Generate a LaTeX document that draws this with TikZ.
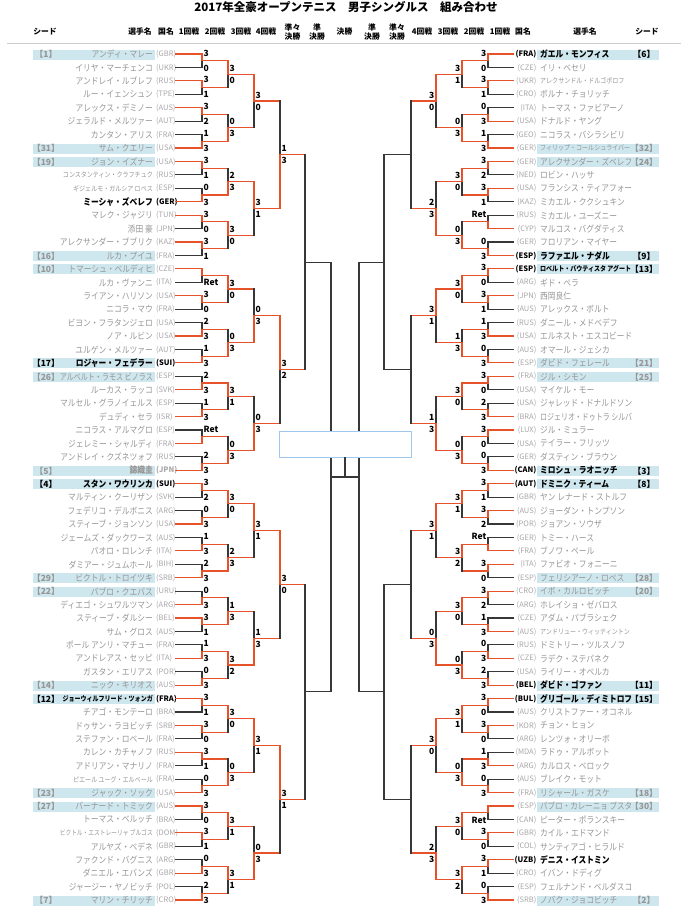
\documentclass[tikz,border=0pt]{standalone}
\usepackage{fontspec}
\usepackage{graphicx}
\setmainfont{Noto Sans CJK JP}
\newfontfamily\nmf[FakeStretch=0.86]{Noto Sans CJK JP}
\definecolor{O}{RGB}{232,82,42}
\definecolor{D}{RGB}{55,55,55}
\definecolor{nmgray}{RGB}{150,150,150}
\definecolor{ccgray}{RGB}{168,168,168}
\definecolor{seedbg}{RGB}{206,230,237}
\definecolor{boxblue}{RGB}{160,200,236}
\definecolor{rulegray}{RGB}{205,205,205}
\newsavebox\nmbox
\newcommand\fitname[2]{\sbox\nmbox{#2}\ifdim\wd\nmbox>#1\relax\resizebox{#1}{\height}{#2}\else\usebox\nmbox\fi}
\newcommand\sm{\fontsize{7}{8}\selectfont}
\tikzset{
  ln/.style={line width=1.2pt, line cap=rect},
  nameL/.style={anchor=east, inner sep=0pt, text=nmgray, font=\nmf\fontsize{9}{10}\selectfont},
  nameR/.style={anchor=west, inner sep=0pt, text=nmgray, font=\nmf\fontsize{9}{10}\selectfont},
  ccL/.style={anchor=west, inner sep=0pt, text=ccgray, font=\fontsize{7.5}{8}\selectfont},
  ccR/.style={anchor=east, inner sep=0pt, text=ccgray, font=\fontsize{7.5}{8}\selectfont},
  seedt/.style={inner sep=0pt, text=nmgray, font=\fontsize{8.5}{9}\selectfont\bfseries},
  bk/.style={text=black, execute at begin node=\bfseries},
  bg/.style={execute at begin node=\bfseries},
  sc/.style={inner sep=0pt, text=black, font=\fontsize{8.5}{9}\selectfont\bfseries},
  scL/.style={anchor=west, xshift=1.5pt},
  scR/.style={anchor=east, xshift=-1.5pt},
  hd/.style={inner sep=0pt, align=center, font=\fontsize{7.8}{9.5}\selectfont\bfseries},
}
% left player
\newcommand\PL[5]{%
  \coordinate (L0-#1) at (176,{ry(#1)});
  \if\relax\detokenize{#2}\relax\else
    \fill[seedbg] (33,{ry(#1)-4.5}) rectangle (155,{ry(#1)+5.5});
    \node[seedt,#5] (Lsd#1) at (46,{ry(#1)+0.5}) {【#2】};
  \fi
  \node[nameL,#5] (Lnm#1) at (153,{ry(#1)+0.3}) {\fitname{93pt}{#3}};
  \node[ccL,#5] (Lcc#1) at (156,{ry(#1)+0.3}) {(#4)};
}
% right player
\newcommand\PR[5]{%
  \coordinate (R0-#1) at (513,{ry(#1)});
  \if\relax\detokenize{#2}\relax\else
    \fill[seedbg] (537,{ry(#1)-4.5}) rectangle (659,{ry(#1)+5.5});
    \node[seedt,#5] (Rsd#1) at (644,{ry(#1)+0.5}) {【#2】};
  \fi
  \node[nameR,#5] (Rnm#1) at (540,{ry(#1)+0.3}) {\fitname{92pt}{#3}};
  \node[ccR,#5] (Rcc#1) at (536.5,{ry(#1)+0.3}) {(#4)};
}
% round: side, round, x, incoming colour, score style, show scores, list
\newcommand\RND[7]{%
  \pgfmathtruncatemacro\prv{#2-1}%
  \pgfmathtruncatemacro\stp{2^#2}%
  \ifnum#2=1 \def\dyt{-7.8}\def\dyb{7.2}\else\def\dyt{-6}\def\dyb{6}\fi
  \foreach \sA/\sB/\cA/\cB [count=\m from 0] in {#7}{%
    \pgfmathtruncatemacro\iA{2*\m}%
    \pgfmathtruncatemacro\iB{2*\m+1}%
    \coordinate (#1#2-\m) at (#3,{ry(\m*\stp+(\stp-1)/2)});
    \ifnum#2=1
      \draw[ln,draw=\cA] (#10-\iA) -- (#10-\iA -| #1#2-\m) -- (#1#2-\m);
      \draw[ln,draw=\cB] (#10-\iB) -- (#10-\iB -| #1#2-\m) -- (#1#2-\m);
    \else
      \draw[ln,draw=#4] (#1\prv-\iA) -- (#1\prv-\iA -| #1#2-\m);
      \draw[ln,draw=#4] (#1\prv-\iB) -- (#1\prv-\iB -| #1#2-\m);
      \draw[ln,draw=\cA] (#1\prv-\iA -| #1#2-\m) -- (#1#2-\m);
      \draw[ln,draw=\cB] (#1\prv-\iB -| #1#2-\m) -- (#1#2-\m);
    \fi
    \ifnum#6=1
      \node[sc,#5] (#1s#2-\m-a) at ([shift={(0,\dyt)}]#1#2-\m) {\sA};
      \node[sc,#5] (#1s#2-\m-b) at ([shift={(0,\dyb)}]#1#2-\m) {\sB};
    \fi
  }%
}
\begin{document}
\begin{tikzpicture}[x=1pt,y=-1pt,declare function={ry(\i)=54+13.4286*\i;}]
\fill[white] (0,0) rectangle (688,914);
\useasboundingbox (0,0) rectangle (688,914);
% title and header
\node[inner sep=0pt,font=\fontsize{11.5}{12}\selectfont\bfseries] (title) at (346,7) {2017年全豪オープンテニス　男子シングルス　組み合わせ};
\node[hd] (hSeedL) at (45,32) {シード};
\node[hd] (hNameL) at (140,32) {選手名};
\node[hd] (hCcL) at (166,32) {国名};
\node[hd] (hR1L) at (189,32) {1回戦};
\node[hd] (hR2L) at (215,32) {2回戦};
\node[hd] (hR3L) at (241,32) {3回戦};
\node[hd] (hR4L) at (266,32) {4回戦};
\node[hd] (hQFL) at (292.5,32) {準々\\決勝};
\node[hd] (hSFL) at (317,32) {準\\決勝};
\node[hd] (hF) at (344.5,32) {決勝};
\node[hd] (hSFR) at (372,32) {準\\決勝};
\node[hd] (hQFR) at (397,32) {準々\\決勝};
\node[hd] (hR4R) at (422,32) {4回戦};
\node[hd] (hR3R) at (448,32) {3回戦};
\node[hd] (hR2R) at (474,32) {2回戦};
\node[hd] (hR1R) at (500,32) {1回戦};
\node[hd] (hCcR) at (523,32) {国名};
\node[hd] (hNameR) at (585,32) {選手名};
\node[hd] (hSeedR) at (647,32) {シード};
\coordinate (sepA) at (7,43);
\coordinate (sepB) at (681,43);
\draw[rulegray,line width=0.8pt] (sepA) -- (sepB);
% left players
\PL{0}{1}{アンディ・マレー}{GBR}{}
\PL{1}{}{イリヤ・マーチェンコ}{UKR}{}
\PL{2}{}{アンドレイ・ルブレフ}{RUS}{}
\PL{3}{}{ルー・イェンシュン}{TPE}{}
\PL{4}{}{アレックス・デミノー}{AUS}{}
\PL{5}{}{ジェラルド・メルツァー}{AUT}{}
\PL{6}{}{カンタン・アリス}{FRA}{}
\PL{7}{31}{サム・クエリー}{USA}{}
\PL{8}{19}{ジョン・イズナー}{USA}{}
\PL{9}{}{\sm コンスタンティン・クラフチュク}{RUS}{}
\PL{10}{}{\sm ギジェルモ・ガルシア ロペス}{ESP}{}
\PL{11}{}{ミーシャ・ズベレフ}{GER}{bk}
\PL{12}{}{マレク・ジャジリ}{TUN}{}
\PL{13}{}{添田 豪}{JPN}{}
\PL{14}{}{アレクサンダー・ブブリク}{KAZ}{}
\PL{15}{16}{ルカ・プイユ}{FRA}{}
\PL{16}{10}{トマーシュ・ベルディヒ}{CZE}{}
\PL{17}{}{ルカ・ヴァンニ}{ITA}{}
\PL{18}{}{ライアン・ハリソン}{USA}{}
\PL{19}{}{ニコラ・マウ}{FRA}{}
\PL{20}{}{ビヨン・フラタンジェロ}{USA}{}
\PL{21}{}{ノア・ルビン}{USA}{}
\PL{22}{}{ユルゲン・メルツァー}{AUT}{}
\PL{23}{17}{ロジャー・フェデラー}{SUI}{bk}
\PL{24}{26}{アルベルト・ラモス ビノラス}{ESP}{}
\PL{25}{}{ルーカス・ラッコ}{SVK}{}
\PL{26}{}{マルセル・グラノイェルス}{ESP}{}
\PL{27}{}{デュディ・セラ}{ISR}{}
\PL{28}{}{ニコラス・アルマグロ}{ESP}{}
\PL{29}{}{ジェレミー・シャルディ}{FRA}{}
\PL{30}{}{アンドレイ・クズネツォフ}{RUS}{}
\PL{31}{5}{錦織圭}{JPN}{bg}
\PL{32}{4}{スタン・ワウリンカ}{SUI}{bk}
\PL{33}{}{マルティン・クーリザン}{SVK}{}
\PL{34}{}{フェデリコ・デルボニス}{ARG}{}
\PL{35}{}{スティーブ・ジョンソン}{USA}{}
\PL{36}{}{ジェームズ・ダックワース}{AUS}{}
\PL{37}{}{パオロ・ロレンチ}{ITA}{}
\PL{38}{}{ダミアー・ジュムホール}{BIH}{}
\PL{39}{29}{ビクトル・トロイツキ}{SRB}{}
\PL{40}{22}{パブロ・クエバス}{URU}{}
\PL{41}{}{ディエゴ・シュワルツマン}{ARG}{}
\PL{42}{}{スティーブ・ダルシー}{BEL}{}
\PL{43}{}{サム・グロス}{AUS}{}
\PL{44}{}{ポール アンリ・マチュー}{FRA}{}
\PL{45}{}{アンドレアス・セッピ}{ITA}{}
\PL{46}{}{ガスタン・エリアス}{POR}{}
\PL{47}{14}{ニック・キリオス}{AUS}{}
\PL{48}{12}{\sm ジョーウィルフリード・ツォンガ}{FRA}{bk}
\PL{49}{}{チアゴ・モンテーロ}{BRA}{}
\PL{50}{}{ドゥサン・ラヨビッチ}{SRB}{}
\PL{51}{}{ステファン・ロベール}{FRA}{}
\PL{52}{}{カレン・カチャノフ}{RUS}{}
\PL{53}{}{アドリアン・マナリノ}{FRA}{}
\PL{54}{}{\sm ピエール ユーグ・エルベール}{FRA}{}
\PL{55}{23}{ジャック・ソック}{USA}{}
\PL{56}{27}{バーナード・トミック}{AUS}{}
\PL{57}{}{トーマス・ベルッチ}{BRA}{}
\PL{58}{}{\sm ビクトル・エストレーリャ ブルゴス}{DOM}{}
\PL{59}{}{アルヤズ・ベデネ}{GBR}{}
\PL{60}{}{ファクンド・バグニス}{ARG}{}
\PL{61}{}{ダニエル・エバンズ}{GBR}{}
\PL{62}{}{ジャージー・ヤノビッチ}{POL}{}
\PL{63}{7}{マリン・チリッチ}{CRO}{}
% right players
\PR{0}{6}{ガエル・モンフィス}{FRA}{bk}
\PR{1}{}{イリ・ベセリ}{CZE}{}
\PR{2}{}{\sm アレクサンドル・ドルゴポロフ}{UKR}{}
\PR{3}{}{ボルナ・チョリッチ}{CRO}{}
\PR{4}{}{トーマス・ファビアーノ}{ITA}{}
\PR{5}{}{ドナルド・ヤング}{USA}{}
\PR{6}{}{ニコラス・バシラシビリ}{GEO}{}
\PR{7}{32}{\sm フィリップ・コールシュライバー}{GER}{}
\PR{8}{24}{アレクサンダー・ズベレフ}{GER}{}
\PR{9}{}{ロビン・ハッサ}{NED}{}
\PR{10}{}{フランシス・ティアフォー}{USA}{}
\PR{11}{}{ミカエル・ククシュキン}{KAZ}{}
\PR{12}{}{ミカエル・ユーズニー}{RUS}{}
\PR{13}{}{マルコス・バグダティス}{CYP}{}
\PR{14}{}{フロリアン・マイヤー}{GER}{}
\PR{15}{9}{ラファエル・ナダル}{ESP}{bk}
\PR{16}{13}{\sm ロベルト・バウティスタ アグート}{ESP}{bk}
\PR{17}{}{ギド・ペラ}{ARG}{}
\PR{18}{}{西岡良仁}{JPN}{}
\PR{19}{}{アレックス・ボルト}{AUS}{}
\PR{20}{}{ダニール・メドベデフ}{RUS}{}
\PR{21}{}{エルネスト・エスコビード}{USA}{}
\PR{22}{}{オマール・ジェシカ}{AUS}{}
\PR{23}{21}{ダビド・フェレール}{ESP}{}
\PR{24}{25}{ジル・シモン}{FRA}{}
\PR{25}{}{マイケル・モー}{USA}{}
\PR{26}{}{ジャレッド・ドナルドソン}{USA}{}
\PR{27}{}{ロジェリオ・ドゥトラ シルバ}{BRA}{}
\PR{28}{}{ジル・ミュラー}{LUX}{}
\PR{29}{}{テイラー・フリッツ}{USA}{}
\PR{30}{}{ダスティン・ブラウン}{GER}{}
\PR{31}{3}{ミロシュ・ラオニッチ}{CAN}{bk}
\PR{32}{8}{ドミニク・ティーム}{AUT}{bk}
\PR{33}{}{ヤン レナード・ストルフ}{GBR}{}
\PR{34}{}{ジョーダン・トンプソン}{AUS}{}
\PR{35}{}{ジョアン・ソウザ}{POR}{}
\PR{36}{}{トミー・ハース}{GER}{}
\PR{37}{}{ブノワ・ペール}{FRA}{}
\PR{38}{}{ファビオ・フォニーニ}{ITA}{}
\PR{39}{28}{フェリシアーノ・ロペス}{ESP}{}
\PR{40}{20}{イボ・カルロビッチ}{CRO}{}
\PR{41}{}{ホレイショ・ゼバロス}{ARG}{}
\PR{42}{}{アダム・パブラシェク}{CZE}{}
\PR{43}{}{\sm アンドリュー・ウィッティントン}{AUS}{}
\PR{44}{}{ドミトリー・ツルスノフ}{RUS}{}
\PR{45}{}{ラデク・ステパネク}{CZE}{}
\PR{46}{}{ライリー・オペルカ}{USA}{}
\PR{47}{11}{ダビド・ゴファン}{BEL}{bk}
\PR{48}{15}{グリゴール・ディミトロフ}{BUL}{bk}
\PR{49}{}{クリストファー・オコネル}{AUS}{}
\PR{50}{}{チョン・ヒョン}{KOR}{}
\PR{51}{}{レンツォ・オリーボ}{ARG}{}
\PR{52}{}{ラドゥ・アルボット}{MDA}{}
\PR{53}{}{カルロス・ベロック}{ARG}{}
\PR{54}{}{ブレイク・モット}{AUS}{}
\PR{55}{18}{リシャール・ガスケ}{FRA}{}
\PR{56}{30}{パブロ・カレーニョ ブスタ}{ESP}{}
\PR{57}{}{ピーター・ポランスキー}{CAN}{}
\PR{58}{}{カイル・エドマンド}{GBR}{}
\PR{59}{}{サンティアゴ・ヒラルド}{COL}{}
\PR{60}{}{デニス・イストミン}{UZB}{bk}
\PR{61}{}{イバン・ドディグ}{CRO}{}
\PR{62}{}{フェルナンド・ベルダスコ}{ESP}{}
\PR{63}{2}{ノバク・ジョコビッチ}{SRB}{}
% left bracket
\RND{L}{1}{202}{D}{scL}{1}{3/0/O/D,3/1/O/D,3/2/O/D,1/3/D/O,3/1/O/D,0/3/D/O,3/0/O/D,3/1/O/D,
 {}/Ret/O/D,3/0/O/D,2/3/D/O,1/3/D/O,2/3/D/O,1/3/D/O,Ret/{}/D/O,2/3/D/O,
 3/2/O/D,0/3/D/O,1/3/D/O,2/3/D/O,0/3/D/O,3/1/O/D,1/3/D/O,0/3/D/O,
 3/1/O/D,3/0/O/D,3/1/O/D,0/3/D/O,3/0/O/D,3/1/O/D,0/3/D/O,2/3/D/O}
\RND{L}{2}{228}{O}{scL}{1}{3/0/O/D,0/3/D/O,2/3/D/O,3/0/O/D,3/0/O/D,0/3/D/O,3/1/O/D,0/3/D/O,
 3/0/O/D,2/3/D/O,1/3/D/O,3/2/O/D,3/0/O/D,0/3/D/O,3/1/O/D,3/1/O/D}
\RND{L}{3}{254}{O}{scL}{1}{3/0/O/D,3/1/O/D,0/3/D/O,0/3/D/O,3/1/O/D,1/3/D/O,3/1/O/D,0/3/D/O}
\RND{L}{4}{280}{O}{scL}{1}{1/3/D/O,3/2/O/D,3/0/O/D,3/1/O/D}
\RND{L}{5}{305}{O}{scL}{0}{x/x/D/D,x/x/D/D}
\RND{L}{6}{331}{D}{scL}{0}{x/x/D/D}
% right bracket
\RND{R}{1}{488}{D}{scR}{1}{3/0/O/D,3/1/O/D,0/3/D/O,1/3/D/O,3/2/O/D,3/1/O/D,Ret/{}/D/O,0/3/D/O,
 3/0/O/D,3/1/O/D,1/3/D/O,0/3/D/O,3/0/O/D,2/3/D/O,3/0/O/D,0/3/D/O,
 3/1/O/D,3/2/O/D,Ret/{}/D/O,3/0/O/D,3/2/O/D,1/3/D/O,0/3/D/O,2/3/D/O,
 3/0/O/D,3/0/O/D,1/3/D/O,0/3/D/O,{}/Ret/O/D,3/0/O/D,3/1/O/D,0/3/D/O}
\RND{R}{2}{462}{O}{scR}{1}{3/1/O/D,0/3/D/O,3/0/O/D,0/3/D/O,3/0/O/D,1/3/D/O,3/0/O/D,0/3/D/O,
 3/1/O/D,3/2/O/D,3/0/O/D,0/3/D/O,3/1/O/D,0/3/D/O,3/0/O/D,3/2/O/D}
\RND{R}{3}{436}{O}{scR}{1}{3/0/O/D,2/3/D/O,3/1/O/D,1/3/D/O,3/1/O/D,0/3/D/O,3/0/O/D,2/3/D/O}
\RND{R}{4}{411}{O}{scR}{0}{x/x/D/D,x/x/D/D,x/x/D/D,x/x/D/D}
\RND{R}{5}{384}{D}{scR}{0}{x/x/D/D,x/x/D/D}
\RND{R}{6}{359}{D}{scR}{0}{x/x/D/D}
% final
\draw[ln,draw=D] (L6-0) -- (R6-0);
\node[draw=boxblue,line width=1pt,fill=white,inner sep=0pt,minimum width=132pt,minimum height=26pt] (champ) at (345,444) {};
\coordinate (fm) at (345,{ry(31.5)});
\draw[ln,draw=D] (fm) -- (champ.south);
\end{tikzpicture}
\end{document}
